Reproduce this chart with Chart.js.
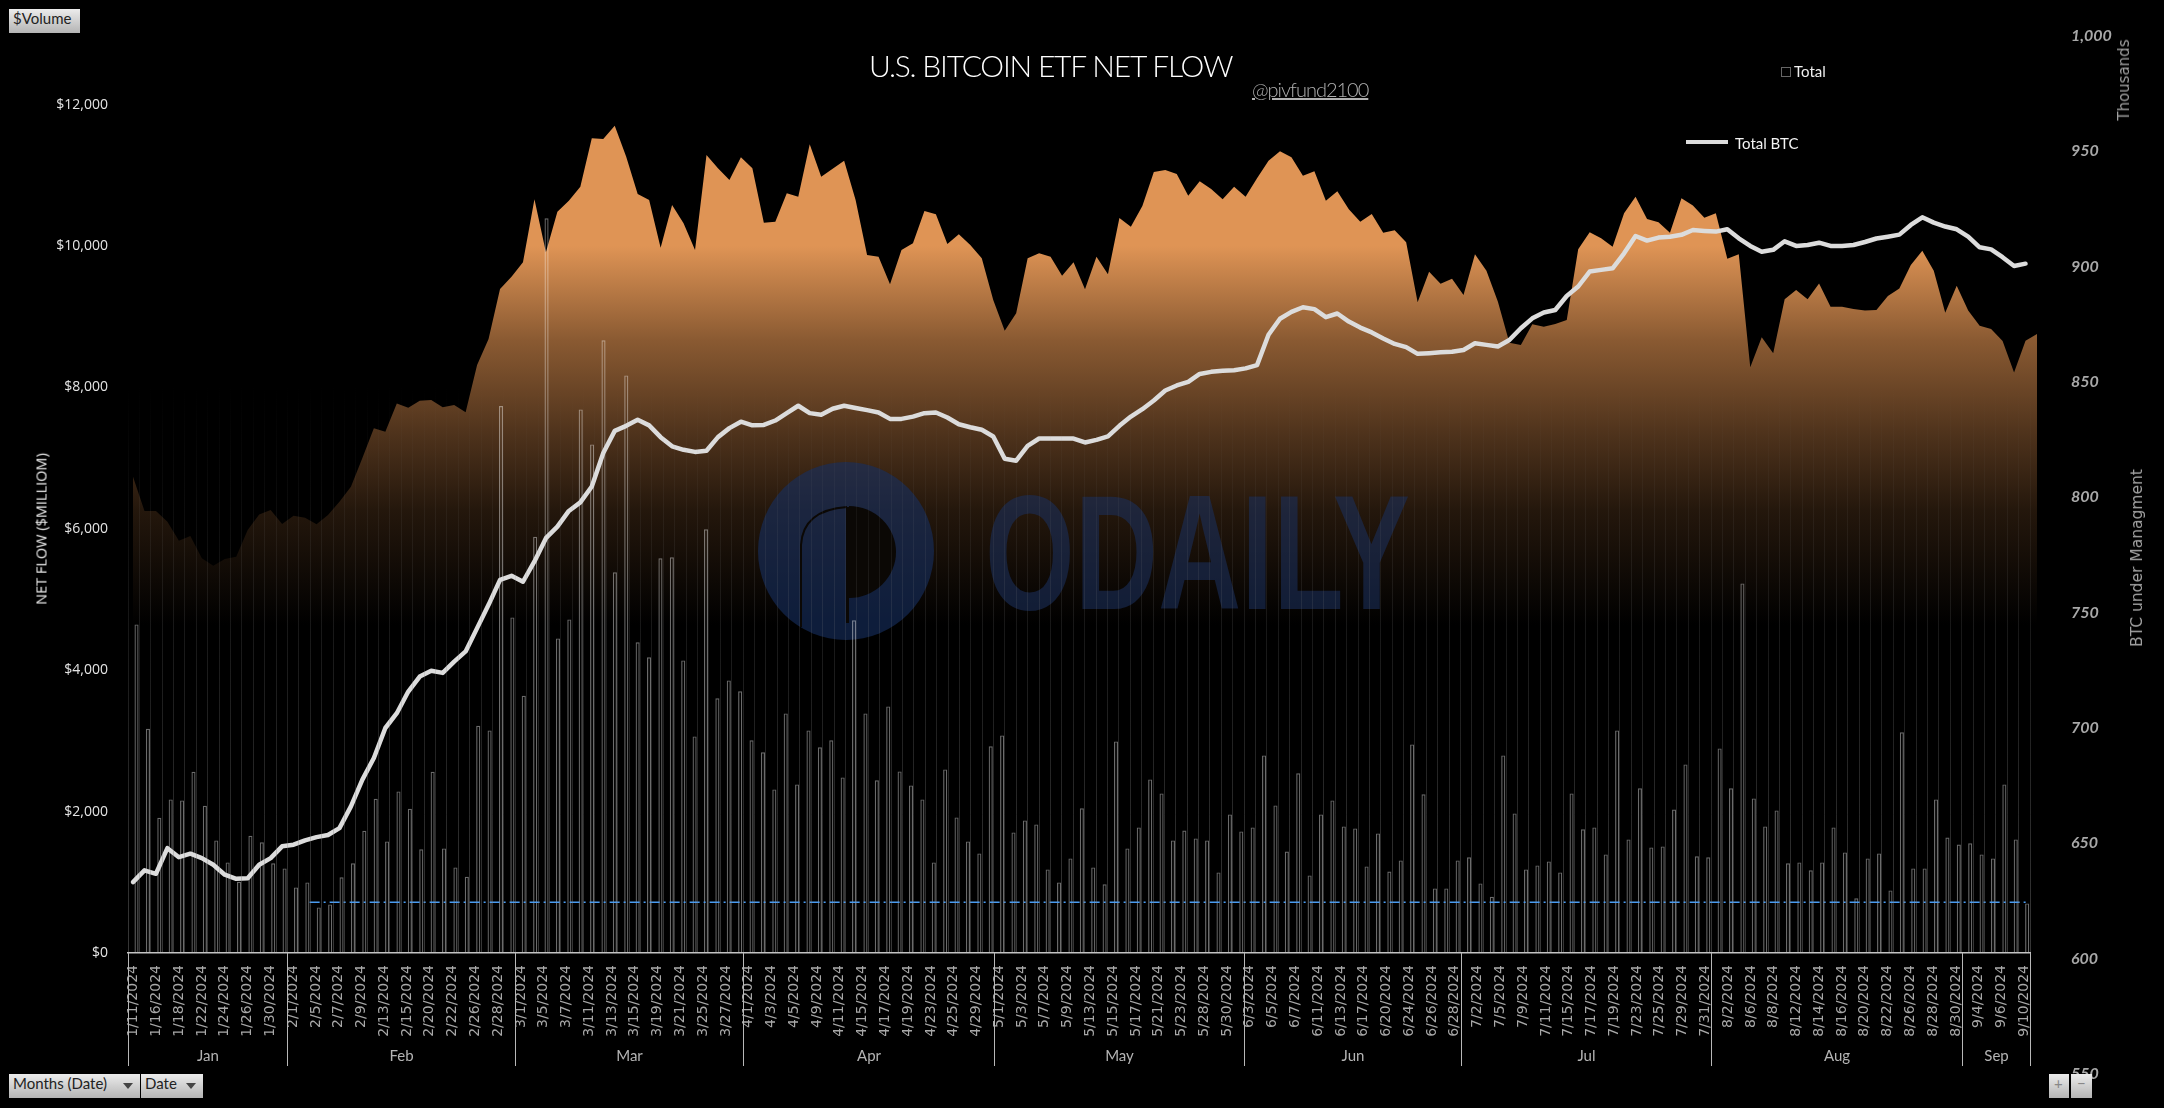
<!DOCTYPE html>
<html>
<head>
<meta charset="utf-8">
<script src="https://cdn.jsdelivr.net/npm/chart.js@4"></script>
<style>
  html, body { margin: 0; background: #000; }
  #wrap { position: relative; width: 2164px; height: 1108px; overflow: hidden; background: #000; }
  canvas { position: absolute; left: 0; top: 0; }
  .txt { position: absolute; white-space: nowrap; font-family: Lato, sans-serif; }
  .rot { transform: translate(-50%, -50%) rotate(-90deg); }
  .btn { position: absolute; height: 24px; line-height: 24px; box-sizing: border-box; padding-left: 4px;
         background: linear-gradient(#ececec, #b4b4b4); color: #222; font: 15px Lato, sans-serif; white-space: nowrap; }
  .arrow { position: absolute; top: 9px; width: 0; height: 0; border-left: 5px solid transparent;
           border-right: 5px solid transparent; border-top: 6px solid #444; }
</style>
</head>
<body>
<div id="wrap">
  <canvas id="myChart" width="2164" height="1108"></canvas>

  <div class="txt" id="title" style="left:869px;top:47px;font-size:30px;font-weight:300;letter-spacing:-1.2px;color:#fff;">U.S. BITCOIN ETF NET FLOW</div>
  <div class="txt" style="left:1252px;top:77px;font-size:20px;font-weight:300;letter-spacing:-1px;color:#b0b0b0;text-decoration:underline;">@pivfund2100</div>

  <div style="position:absolute;left:1781px;top:67px;width:8px;height:8px;border:1px solid #666;"></div>
  <div class="txt" style="left:1794px;top:62px;font-size:15px;color:#f0f0f0;">Total</div>
  <div style="position:absolute;left:1686px;top:140px;width:42px;height:4px;background:#dcdcdc;"></div>
  <div class="txt" style="left:1735px;top:134px;font-size:15px;color:#f4f4f4;">Total BTC</div>

  <div class="txt rot" style="left:41px;top:529px;font:14.5px 'Open Sans',sans-serif;color:#f0f0f0;">NET FLOW ($MILLIOM)</div>
  <div class="txt rot" style="left:2124px;top:80px;font:15px 'DejaVu Sans',sans-serif;color:#a0a0a0;">Thousands</div>
  <div class="txt rot" style="left:2137px;top:558px;font:15.5px 'DejaVu Sans',sans-serif;color:#a0a0a0;">BTC under Managment</div>

  <div class="btn" style="left:9px;top:9px;width:71px;">$Volume</div>
  <div class="btn" style="left:9px;top:1074px;width:131px;">Months (Date)<span class="arrow" style="left:114px;"></span></div>
  <div class="btn" style="left:141px;top:1074px;width:62px;">Date<span class="arrow" style="left:45px;"></span></div>
  <div class="btn" style="left:2049px;top:1074px;width:20px;padding-left:5px;color:#888;">+</div>
  <div class="btn" style="left:2071px;top:1074px;width:21px;padding-left:6px;color:#888;">−</div>
</div>

<script>
// trading days per month
const months = ['Jan', 'Feb', 'Mar', 'Apr', 'May', 'Jun', 'Jul', 'Aug', 'Sep'];
const monthDays = [
  [11,12,16,17,18,19,22,23,24,25,26,29,30,31],
  [1,2,5,6,7,8,9,12,13,14,15,16,20,21,22,23,26,27,28,29],
  [1,4,5,6,7,8,11,12,13,14,15,18,19,20,21,22,25,26,27,28],
  [1,2,3,4,5,8,9,10,11,12,15,16,17,18,19,22,23,24,25,26,29,30],
  [1,2,3,6,7,8,9,10,13,14,15,16,17,20,21,22,23,24,28,29,30,31],
  [3,4,5,6,7,10,11,12,13,14,17,18,20,21,24,25,26,27,28],
  [1,2,3,5,8,9,10,11,12,15,16,17,18,19,22,23,24,25,26,29,30,31],
  [1,2,5,6,7,8,9,12,13,14,15,16,19,20,21,22,23,26,27,28,29,30],
  [3,4,5,6,9,10]
];
const dates = monthDays.flatMap((days, m) => days.map(d => (m + 1) + '/' + d + '/2024'));

const yTicks = [0, 2000, 4000, 6000, 8000, 10000, 12000];
const y1Ticks = [550, 600, 650, 700, 750, 800, 850, 900, 950, 1000];

// bars: daily total
const barValues = [
  4648,3172,1914,2173,2159,2564,2083,1593,1282,1008,
  1659,1565,1268,1197,928,999,645,688,1070,1268,
  1730,2182,1579,2286,2041,1466,2564,1480,1211,1079,
  3215,3149,7737,4747,3639,5888,10391,4450,4719,7689,
  7194,8666,5384,8170,4394,4182,5582,5596,4139,3064,
  5992,3602,3856,3701,3008,2838,2314,3389,2385,3149,
  2909,3008,2484,4705,3389,2442,3488,2569,2371,2173,
  1282,2597,1918,1579,1409,2923,3078,1706,1876,1819,
  1183,999,1338,2046,1211,971,2993,1480,1777,2456,
  2258,1593,1734,1621,1593,1140,1961,1720,1777,2795,
  2088,1437,2541,1098,1961,2159,1791,1763,1225,1692,
  1154,1310,2951,2244,914,914,1310,1353,985,796,
  2795,1975,1183,1239,1296,1140,2258,1749,1777,1395,
  3149,1607,2329,1494,1508,2031,2668,1367,1353,2894,
  2329,5228,2187,1791,2017,1268,1282,1169,1282,1777,
  1423,773,1338,1409,886,3121,1197,1197,2173,1635,
  1536,1551,1395,1338,2385,1607,702
];

// orange area, read against the left axis
const areaValues = [
  6737,6251,6251,6100,5832,5898,5582,5478,5572,5605,
  5983,6204,6265,6068,6185,6157,6063,6195,6383,6596,
  7000,7421,7374,7774,7713,7812,7822,7718,7751,7647,
  8317,8684,9392,9566,9769,10660,9910,10485,10641,10839,
  11523,11513,11702,11263,10735,10650,9976,10580,10320,9943,
  11287,11098,10933,11254,11098,10330,10344,10745,10698,11438,
  10981,11094,11207,10650,9873,9849,9458,9943,10038,10495,
  10448,10028,10165,10014,9825,9236,8802,9047,9825,9896,
  9849,9580,9769,9387,9849,9599,10396,10273,10566,11047,
  11075,11018,10712,10915,10806,10660,10839,10698,10957,11207,
  11339,11254,10995,11056,10641,10773,10518,10344,10452,10188,
  10221,10052,9203,9637,9467,9538,9307,9882,9651,9213,
  8633,8600,8892,8859,8897,8954,9953,10194,10109,9991,
  10462,10698,10382,10335,10189,10675,10571,10401,10462,9821,
  9882,8284,8708,8482,9246,9378,9246,9468,9142,9142,
  9109,9086,9095,9293,9397,9732,9934,9651,9057,9439,
  9086,8873,8826,8657,8209,8661,8756
];

// white line, thousands of BTC on the right axis
const btcValues = [
  633.2,638.3,636.8,647.9,644.0,645.5,643.6,640.7,636.4,634.6,
  634.9,640.7,643.6,648.7,649.4,651.3,652.7,653.6,656.6,666.0,
  677.6,687.0,700.0,706.4,715.8,722.3,724.8,723.9,728.8,733.2,
  743.3,753.4,764.2,766.0,763.4,772.2,782.3,787.3,794.1,797.8,
  804.7,819.2,828.8,831.0,833.6,831.2,826.1,822.1,820.6,819.7,
  820.2,826.1,830.0,832.8,831.2,831.4,833.3,836.5,839.7,836.5,
  835.8,838.4,839.7,838.7,837.8,836.8,834.0,834.0,835.0,836.5,
  836.8,834.6,831.7,830.4,829.3,826.4,816.7,815.9,822.3,825.5,
  825.5,825.5,825.5,823.8,824.9,826.4,831.0,835.0,838.2,842.0,
  846.3,848.5,850.1,853.5,854.4,854.9,855.1,855.9,857.3,870.5,
  877.4,880.4,882.4,881.6,878.1,879.7,876.2,873.6,871.5,868.9,
  866.5,865.1,862.2,862.5,862.9,863.1,863.9,866.8,866.1,865.4,
  868.2,873.3,877.6,880.1,881.2,887.3,891.4,897.9,898.6,899.3,
  905.8,913.3,911.3,912.6,913.0,913.8,915.9,915.5,915.2,916.2,
  912.3,909.0,906.5,907.3,911.0,909.0,909.4,910.4,909.0,909.0,
  909.4,910.7,912.2,913.0,913.9,918.1,921.4,919.1,917.4,916.2,
  913.0,908.4,907.5,904.1,900.3,901.3
];

// blue dash-dot level
const levelValue = 717;
const levelRange = [15.4, 165.2];

const canvas = document.getElementById('myChart');
const ctx = canvas.getContext('2d');

const areaFill = ctx.createLinearGradient(0, 246, 0, 625);
areaFill.addColorStop(0, '#df9455');
areaFill.addColorStop(0.248, '#8a5a32');
areaFill.addColorStop(0.493, '#4f331c');
areaFill.addColorStop(0.697, '#24170c');
areaFill.addColorStop(1, '#000000');

// faint bin lines fade out going up and stop at the axis
const gridFade = ctx.createLinearGradient(0, 36, 0, 1074);
gridFade.addColorStop(0, 'rgba(130,130,130,0)');
gridFade.addColorStop(0.336, 'rgba(130,130,130,0)');
gridFade.addColorStop(0.8834, 'rgba(130,130,130,0.42)');
gridFade.addColorStop(0.8835, 'rgba(0,0,0,0)');
gridFade.addColorStop(1, 'rgba(0,0,0,0)');

// tick padding would otherwise shrink the plot height
const noPad = s => { s.paddingTop = 0; s.paddingBottom = 0; };

// the area runs a little past the right end of the axis
const areaOverhang = {
  id: 'areaOverhang',
  beforeDatasetsDraw(chart) { chart.chartArea.right += 10; },
  afterDatasetsDraw(chart) { chart.chartArea.right -= 10; }
};

// logo behind the bars, on top of the area
const watermark = {
  id: 'watermark',
  afterDatasetDraw(chart, args) {
    if (args.index !== 0) return;
    const c = chart.ctx;
    c.save();
    c.fillStyle = 'rgba(22,46,95,0.62)';
    c.beginPath();
    c.ellipse(846, 551, 88, 89, 0, 0, Math.PI * 2);
    c.fill();
    c.fillStyle = '#0b0805';
    c.beginPath();
    c.ellipse(849, 552, 47, 46, 0, -Math.PI / 2, Math.PI / 2);
    c.fill();
    c.fillRect(846, 507, 3, 116);
    c.strokeStyle = '#0b0805';
    c.lineWidth = 2;
    c.beginPath();
    c.moveTo(801, 627);
    c.lineTo(801, 545);
    c.quadraticCurveTo(803, 510, 847, 507);
    c.stroke();
    c.fillStyle = 'rgba(26,46,90,0.6)';
    c.font = "bold 100px 'Liberation Sans Narrow', 'Liberation Sans'";
    c.textBaseline = 'alphabetic';
    const w = c.measureText('ODAILY').width;
    c.translate(985, 609);
    c.scale(425 / w, 116 / 71);
    c.fillText('ODAILY', 0, 0);
    c.restore();
  }
};

// second level of the date axis
const monthAxis = {
  id: 'monthAxis',
  afterDraw(chart) {
    const c = chart.ctx;
    const xs = chart.scales.x;
    const base = chart.scales.y.getPixelForValue(0);
    let start = 0;
    c.save();
    c.strokeStyle = '#b8b8b8';
    c.lineWidth = 1;
    c.fillStyle = '#b4b4b4';
    c.font = '15px Lato';
    c.textAlign = 'center';
    c.textBaseline = 'middle';
    const edge = i => xs.getPixelForValue(i) - (xs.getPixelForValue(1) - xs.getPixelForValue(0)) / 2;
    months.forEach((name, m) => {
      const end = start + monthDays[m].length;
      const a = Math.round(edge(start)) + 0.5;
      const b = Math.round(edge(end)) + 0.5;
      c.beginPath();
      c.moveTo(a, base);
      c.lineTo(a, base + 113);
      if (m === months.length - 1) {
        c.moveTo(b, base);
        c.lineTo(b, base + 113);
      }
      c.stroke();
      c.fillText(name, (a + b) / 2, base + 103);
      start = end;
    });
    c.restore();
  }
};

new Chart(ctx, {
  type: 'bar',
  plugins: [areaOverhang, watermark, monthAxis],
  data: {
    labels: dates,
    datasets: [
      {
        type: 'line',
        label: 'Area',
        data: areaValues.map((v, i) => ({x: i, y: v})),
        xAxisID: 'x2',
        yAxisID: 'y',
        fill: 'origin',
        backgroundColor: areaFill,
        borderWidth: 0,
        pointRadius: 0,
        tension: 0,
        clip: false,
        order: 3
      },
      {
        label: 'Total',
        data: barValues,
        xAxisID: 'x',
        yAxisID: 'y',
        backgroundColor: 'rgba(0,0,0,0)',
        borderColor: 'rgba(255,255,255,0.42)',
        borderWidth: 1.2,
        inflateAmount: 0,
        barPercentage: 0.72,
        categoryPercentage: 1,
        order: 2
      },
      {
        type: 'line',
        label: 'Level',
        data: levelRange.map(i => ({x: i, y: levelValue})),
        xAxisID: 'x2',
        yAxisID: 'y',
        borderColor: '#4a9bf0',
        borderWidth: 1.5,
        borderDash: [10, 4, 2, 4],
        pointRadius: 0,
        order: 1
      },
      {
        type: 'line',
        label: 'Total BTC',
        data: btcValues.map((v, i) => ({x: i, y: v})),
        xAxisID: 'x2',
        yAxisID: 'y1',
        borderColor: '#dcdcdc',
        borderWidth: 4.5,
        borderCapStyle: 'round',
        borderJoinStyle: 'round',
        pointRadius: 0,
        tension: 0,
        order: 0
      }
    ]
  },
  options: {
    responsive: false,
    animation: false,
    layout: {padding: {top: 36, bottom: 34, left: 0, right: 0}},
    plugins: {
      legend: {display: false},
      tooltip: {enabled: false}
    },
    scales: {
      x: {
        position: {y: 0},
        offset: true,
        grid: {color: gridFade, lineWidth: 1, offset: true, drawTicks: false, z: 1},
        border: {color: '#c4c4c4', width: 1.5, z: 2},
        ticks: {
          autoSkip: false,
          minRotation: 90,
          maxRotation: 90,
          padding: 12,
          color: '#a8a8a8',
          font: {family: 'DejaVu Sans', size: 14},
          callback: function (value, index) {
            return index % 2 === 0 ? dates[index] : '';
          }
        }
      },
      x2: {
        type: 'linear',
        display: false,
        offset: false,
        min: -0.436,
        max: 165.39
      },
      y: {
        position: 'left',
        min: -1711,
        max: 12970,
        afterFit: s => { s.width = 128; noPad(s); },
        afterBuildTicks: s => { s.ticks = yTicks.map(v => ({value: v})); },
        grid: {display: false, drawTicks: false},
        border: {display: false},
        ticks: {
          padding: 20,
          color: '#e4e4e4',
          font: {family: 'Open Sans', size: 14},
          callback: v => '$' + v.toLocaleString('en-US')
        }
      },
      y1: {
        position: 'right',
        min: 550,
        max: 1000,
        afterFit: s => { s.width = 134; noPad(s); },
        afterBuildTicks: s => { s.ticks = y1Ticks.map(v => ({value: v})); },
        grid: {display: false, drawTicks: false},
        border: {display: false},
        ticks: {
          padding: 41,
          color: '#a8a8a8',
          font: {family: 'Lato', size: 16, style: 'italic', weight: 'bold'},
          callback: v => v.toLocaleString('en-US')
        }
      }
    }
  }
});
</script>
</body>
</html>
